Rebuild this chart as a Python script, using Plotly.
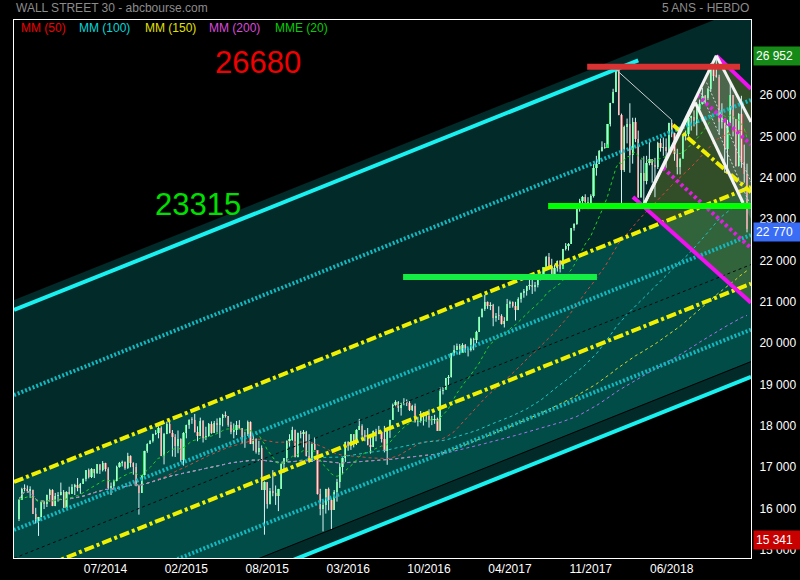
import plotly.graph_objects as go
import pandas as pd

# ---------------- data (weekly, Dec 2013 -> Dec 2018) ----------------
closes = [16221,16479,16469,16437,16458,15879,15699,15794,16154,16103,
16321,16452,16065,16302,16323,16412,16027,16409,16361,16513,
16583,16491,16606,16717,16924,16776,16948,16851,17068,16944,
17100,16961,16493,16554,16663,17001,17098,17138,16988,17280,
17113,17010,16544,16380,16805,17391,17573,17635,17810,17828,
17958,17281,17805,18054,17833,17737,17512,17673,17165,17825,
18019,18141,18133,17857,17750,18128,17713,17763,18058,17827,
18080,18025,18191,18273,18232,18011,17849,17899,18016,17947,
17730,17760,18086,17568,17690,17373,17477,16460,16643,16102,
16433,16385,16315,16472,17084,17216,17647,17664,17910,17245,
17824,17798,17848,17265,17128,17553,17425,16347,15988,16094,
16466,16205,15974,16392,16640,17007,17213,17602,17516,17793,
17577,17897,18004,17774,17740,17535,17501,17873,17807,17865,
17675,17400,17949,18147,18517,18571,18432,18544,18576,18553,
18395,18492,18085,18124,18261,18308,18240,18138,18145,18161,
17888,18847,18868,19152,19171,19757,19843,19934,19763,19964,
19886,19827,20094,20071,20269,20624,20822,21005,20903,20914,
20597,20663,20656,20453,20548,20941,21007,20897,20805,21080,
21206,21272,21384,21395,21350,21414,21638,21580,21830,22093,
21858,21675,21814,21988,21798,22268,22350,22405,22774,22872,
23329,23434,23539,23422,23358,23558,24231,24329,24652,24754,
24719,25296,25803,26072,26617,25521,24191,25219,25310,24538,
25336,24947,23533,24103,23933,24360,24463,24311,24263,24831,
24715,24753,24635,25317,25090,24580,24271,24456,25019,25058,
25451,25463,25313,25669,25790,25965,25917,26155,26744,26458,
26447,25340,25444,24688,25271,25989,25413,24286,25538,24389,
24100,22770]

opens = [15755,16221,16479,16469,16437,16458,15879,15699,15794,16154,
16103,16321,16452,16065,16302,16323,16412,16027,16409,16361,
16513,16583,16491,16606,16717,16924,16776,16948,16851,17068,
16944,17100,16961,16493,16554,16663,17001,17098,17138,16988,
17280,17113,17010,16544,16380,16805,17391,17573,17635,17810,
17828,17958,17281,17805,18054,17833,17737,17512,17673,17165,
17825,18019,18141,18133,17857,17750,18128,17713,17763,18058,
17827,18080,18025,18191,18273,18232,18011,17849,17899,18016,
17947,17730,17760,18086,17568,17690,17373,17477,16460,16643,
16102,16433,16385,16315,16472,17084,17216,17647,17664,17910,
17245,17824,17798,17848,17265,17128,17553,17425,16347,15988,
16094,16466,16205,15974,16392,16640,17007,17213,17602,17516,
17793,17577,17897,18004,17774,17740,17535,17501,17873,17807,
17865,17675,17400,17949,18147,18517,18571,18432,18544,18576,
18553,18395,18492,18085,18124,18261,18308,18240,18138,18145,
18161,17888,18847,18868,19152,19171,19757,19843,19934,19763,
19964,19886,19827,20094,20071,20269,20624,20822,21005,20903,
20914,20597,20663,20656,20453,20548,20941,21007,20897,20805,
21080,21206,21272,21384,21395,21350,21414,21638,21580,21830,
22093,21858,21675,21814,21988,21798,22268,22350,22405,22774,
22872,23329,23434,23539,23422,23358,23558,24231,24329,24652,
24754,24719,25296,25803,26072,26617,25521,24191,25219,25310,
24538,25336,24947,23533,24103,23933,24360,24463,24311,24263,
24831,24715,24753,24635,25317,25090,24580,24271,24456,25019,
25058,25451,25463,25313,25669,25790,25965,25917,26155,26744,
26458,26447,25340,25444,24688,25271,25989,25413,24286,25538,
24389,24100]

highs = [16225,16505,16588,16560,16540,16460,16020,15800,16160,16190,
16340,16480,16470,16380,16400,16630,16450,16420,16530,16590,
16600,16740,16620,16730,16930,16970,16980,16960,17075,17070,
17150,17110,17000,16630,16700,17040,17130,17160,17140,17350,
17290,17120,17100,16580,16810,17400,17580,17660,17810,17900,
17990,17990,17830,18100,18100,17900,17800,17890,17700,17850,
18030,18160,18210,18290,17990,18200,18140,17980,18070,18110,
18120,18180,18200,18290,18350,18240,18100,18060,18120,18140,
17950,17860,18130,18110,17770,17700,17640,17530,16660,16640,
16500,16930,16560,16480,17100,17220,17650,17800,17980,17910,
17840,17880,17900,17880,17800,17600,17720,17410,16480,16180,
16480,16510,16230,16450,16720,17100,17240,17620,17630,17800,
17800,17920,18170,18040,17900,17950,17760,17890,17930,18000,
17870,18000,17950,18150,18540,18620,18600,18560,18670,18640,
18600,18510,18540,18220,18360,18330,18320,18400,18240,18270,
18200,18930,18940,19160,19230,19760,19950,19990,19980,19999,
19980,19880,20130,20130,20300,20640,20840,21170,21010,20990,
20950,20730,20890,20700,20630,21070,21030,21010,21000,21110,
21225,21310,21390,21530,21530,21480,21680,21680,21830,22110,
22180,22040,21900,22000,22010,22280,22420,22420,22780,22900,
23370,23490,23560,23600,23530,23600,24330,24530,24670,24880,
24840,25300,25810,26150,26617,26610,25550,25260,25430,25800,
25450,25450,25140,24440,24520,24530,24860,24450,24480,24870,
24950,24970,24950,25330,25400,25090,24700,24480,25030,25140,
25530,25500,25630,25710,25890,26170,26000,26170,26770,26660,
26952,26490,25800,25400,25400,26280,26000,25420,25560,25980,
24800,24340]

lows = [15700,16221,16417,16380,16260,15870,15640,15341,15790,15990,
16040,16170,16060,16060,16170,16320,16020,16010,16340,16360,
16330,16420,16360,16600,16660,16730,16740,16740,16840,16840,
16900,16900,16460,16330,16490,16660,16990,17020,16940,16960,
17000,16820,16540,15855,16380,16800,17350,17560,17600,17780,
17700,17270,17070,17800,17820,17260,17250,17340,17130,17040,
17700,17930,18050,17840,17630,17750,17600,17660,17740,17810,
17830,17840,17710,17990,18200,17980,17800,17700,17780,17920,
17580,17470,17760,17560,17400,17330,17300,16450,15370,16000,
16100,16300,16090,15940,16480,16870,17130,17500,17640,17240,
17240,17700,17480,17260,17110,17140,17420,16340,15840,15450,
15880,15960,15503,15970,16170,16500,16830,17130,17400,17420,
17480,17540,17900,17730,17630,17530,17330,17490,17630,17800,
17600,17360,17060,17710,18150,18460,18340,18250,18500,18480,
18360,18360,18080,17990,18080,18010,18100,17960,18020,18050,
17880,17890,18760,18900,18990,19170,19700,19830,19720,19780,
19770,19680,19800,19830,20000,20270,20620,20780,20830,20800,
20410,20520,20560,20450,20380,20550,20850,20860,20550,20800,
20980,21100,21150,21290,21190,21250,21350,21520,21550,21850,
21840,21650,21600,21730,21710,21870,22240,22240,22400,22720,
22860,23180,23240,23280,23240,23340,23520,24050,24330,24630,
24700,24810,25240,25800,26070,25510,23360,24140,24830,24120,
24340,24860,23510,23510,23340,23840,24300,23880,23530,24210,
24630,24530,24240,24630,24980,24410,24080,24080,24480,24900,
25000,25140,25240,25020,25640,25770,25790,25880,26080,26340,
26420,25050,25190,24120,24120,25270,25000,24270,24270,24240,
23880,22680]

tick_bars = [31, 60, 89, 118, 147, 176, 205, 234]
tick_labels = ["07/2014", "02/2015", "08/2015", "03/2016", "10/2016", "04/2017", "11/2017", "06/2018"]
y_ticks = list(range(15000, 28000, 1000))

ma_periods = [50, 100, 150, 200]
ma_names = ["MM (50)", "MM (100)", "MM (150)", "MM (200)"]
ma_colors = ["#d24a3c", "#1fc6c6", "#d6d62a", "#a874f0"]
ema_period = 20

# channel lines: value at left edge / right edge of the chart window
edge_bars = [-1.79, 262.43]
fill_dark_top = [21044, 28171]
fill_dark_bottom = [12058, 19186]
fill_light_top = [16644, 23776]
fill_light_bottom = [12428, 19555]
cyan_upper_solid = [(-1.79, 20802), (222.0, 26836)]
cyan_lower_solid = [12058, 19186]
cyan_dotted = [[18747, 25879], [15484, 22615], [13201, 20328]]
yellow_dashdot = [[16644, 23776], [14313, 21440]]
black_dotted = [14800, 21900]

# pitchfork / drawing tools (bar, value)
fork_base = (224, 23344)
fork_apex = (250, 26952)
fork_right = (262.43, 25350)
inner_v = [(224, 23344), (242.4, 25820), (259.6, 23389)]
inner_right_edge = (262.43, 23000)
magenta_upper = [(250, 26952), (262.43, 26150)]
magenta_lower = [(220.1, 23534), (262.43, 20980)]
magenta_dotted = [[(243.1, 26000), (262.43, 24800)], [(230.9, 24235), (262.43, 22300)]]
white_dotted = [[(246.5, 26300), (262.43, 23900)], [(244.5, 26050), (262.43, 23300)]]
yellow_down = [(234.5, 25275), (262.43, 23650)]
thin_white = [(214, 26617), (234, 25400)]

level_red = (203.7, 258.5, 26680)
level_green = (189.7, 262.43, 23315)
level_green2 = (137.7, 207.2, 21600)

last_high, last_price, first_low = 26952, 22770, 15341

# ---------------- figure ----------------
n = len(closes)
idx = list(range(n))
s = pd.Series(closes, dtype=float)

fig = go.Figure()

# wicks
wx, wy = [], []
for i in idx:
    wx += [i, i, None]
    wy += [lows[i], highs[i], None]
fig.add_trace(go.Scatter(x=wx, y=wy, mode="lines", line=dict(color="#d8f4f4", width=1),
                         hoverinfo="skip", showlegend=False))

# bodies
min_h = 30
up_x, up_b, up_h, dn_x, dn_b, dn_h = [], [], [], [], [], []
for i in idx:
    o, c = opens[i], closes[i]
    h = max(abs(c - o), min_h)
    if c >= o:
        up_x.append(i); up_b.append(min(o, c)); up_h.append(h)
    else:
        dn_x.append(i); dn_b.append(min(o, c)); dn_h.append(h)
fig.add_trace(go.Bar(x=up_x, y=up_h, base=up_b, width=0.8, marker=dict(color="#2ef068", line=dict(width=0)),
                     showlegend=False, hoverinfo="skip"))
fig.add_trace(go.Bar(x=dn_x, y=dn_h, base=dn_b, width=0.8, marker=dict(color="#d45c5c", line=dict(width=0)),
                     showlegend=False, hoverinfo="skip"))

# moving averages
for p, nm, col in zip(ma_periods, ma_names, ma_colors):
    ma = s.rolling(p, min_periods=1).mean()
    fig.add_trace(go.Scatter(x=idx, y=ma, mode="lines", name=nm,
                             line=dict(color=col, width=1, dash="3px,3px"), showlegend=False, hoverinfo="skip"))
ema = s.ewm(span=ema_period, adjust=False).mean()
fig.add_trace(go.Scatter(x=idx, y=ema, mode="lines", name="MME (20)",
                         line=dict(color="#22d022", width=1, dash="3px,3px"), showlegend=False, hoverinfo="skip"))

shapes = []
x0e, x1e = edge_bars

def poly(pts, color, layer="below"):
    d = "M " + " L ".join(f"{x},{y}" for x, y in pts) + " Z"
    return dict(type="path", path=d, xref="x", yref="y", fillcolor=color, line=dict(width=0), layer=layer)

def seg(p0, p1, color, width, dash="solid", layer="above"):
    return dict(type="line", xref="x", yref="y", x0=p0[0], y0=p0[1], x1=p1[0], y1=p1[1],
                line=dict(color=color, width=width, dash=dash), layer=layer)

# channel fills
shapes.append(poly([(x0e, fill_dark_top[0]), (x1e, fill_dark_top[1]), (x1e, fill_dark_bottom[1]), (x0e, fill_dark_bottom[0])], "#012a29"))
shapes.append(poly([(x0e, fill_light_top[0]), (x1e, fill_light_top[1]), (x1e, fill_light_bottom[1]), (x0e, fill_light_bottom[0])], "#024c48"))
# fork fills
shapes.append(poly([fork_base, fork_apex, magenta_upper[1], magenta_lower[1]], "rgba(135,145,40,0.36)"))
shapes.append(poly([inner_v[1], fork_apex, fork_right, inner_right_edge, inner_v[2]], "rgba(170,190,200,0.22)"))

# channel lines
shapes.append(seg((x0e, fill_light_bottom[0]), (x1e, fill_light_bottom[1]), "#000000", 1))
shapes.append(seg((x0e, black_dotted[0]), (x1e, black_dotted[1]), "#0a0a0a", 1, "dot"))
for a, b in cyan_dotted:
    shapes.append(seg((x0e, a), (x1e, b), "#13b8c0", 4, "2px,2px"))
for a, b in yellow_dashdot:
    shapes.append(seg((x0e, a), (x1e, b), "#f0f000", 4, "10px,3px,3px,3px"))
shapes.append(seg(cyan_upper_solid[0], cyan_upper_solid[1], "#19f0f0", 4))
shapes.append(seg((x0e, cyan_lower_solid[0]), (x1e, cyan_lower_solid[1]), "#19f0f0", 4))

# horizontal levels
shapes.append(seg((level_green2[0], level_green2[2]), (level_green2[1], level_green2[2]), "#14ee44", 6))

# fork lines
shapes.append(seg(thin_white[0], thin_white[1], "#d0d0d0", 1))
for p0, p1 in white_dotted:
    shapes.append(seg(p0, p1, "#cfd8d8", 1, "2px,2px"))
shapes.append(seg(yellow_down[0], yellow_down[1], "#f0f000", 4, "10px,3px,3px,3px"))
for p0, p1 in magenta_dotted:
    shapes.append(seg(p0, p1, "#e020e0", 4, "3px,3px"))
shapes.append(seg(magenta_upper[0], magenta_upper[1], "#f010f0", 4))
shapes.append(seg(magenta_lower[0], magenta_lower[1], "#f010f0", 4))
shapes.append(seg(inner_v[0], inner_v[1], "#f4f4f4", 3))
shapes.append(seg(inner_v[1], inner_v[2], "#f4f4f4", 3))
shapes.append(seg(fork_base, fork_apex, "#f4f4f4", 3))
shapes.append(seg(fork_apex, fork_right, "#f4f4f4", 3))
shapes.append(seg((level_red[0], level_red[2]), (level_red[1], level_red[2]), "#d83232", 6))
shapes.append(seg((level_green[0], level_green[2]), (level_green[1], level_green[2]), "#00ff00", 6))

FONT = "Liberation Sans, Arial, sans-serif"
W, H = 737.0, 538.0
def px(x): return (x - 14) / W
def py(y): return 1 - (y - 20) / H

ann = []
ann.append(dict(x=0, y=py(8), xref="paper", yref="paper", xanchor="left", yanchor="middle",
                text="WALL STREET 30 - abcbourse.com", showarrow=False, font=dict(family=FONT, size=12, color="#8c8c8c")))
ann.append(dict(x=1, y=py(8), xref="paper", yref="paper", xanchor="right", yanchor="middle",
                text="5 ANS - HEBDO", showarrow=False, font=dict(family=FONT, size=12, color="#8c8c8c")))
legend_x = [19, 77, 143, 207, 273]
legend_cols = ["#f00000", "#00d8d8", "#e0e000", "#dc4adc", "#00d000"]
for x, t, c in zip(legend_x, ma_names + ["MME (20)"], legend_cols):
    ann.append(dict(x=px(x), y=py(28), xref="paper", yref="paper", xanchor="left", yanchor="middle",
                    text=t, showarrow=False, font=dict(family=FONT, size=12, color=c)))
ann.append(dict(x=px(258), y=py(62), xref="paper", yref="paper", xanchor="center", yanchor="middle",
                text=f"{level_red[2]}", showarrow=False, font=dict(family=FONT, size=31, color="#f00000")))
ann.append(dict(x=px(198), y=py(205), xref="paper", yref="paper", xanchor="center", yanchor="middle",
                text=f"{level_green[2]}", showarrow=False, font=dict(family=FONT, size=31, color="#00e000")))
for val, bg, ys in [(last_high, "#168a16", 0), (last_price, "#3a6df5", -3), (first_low, "#c80000", -4)]:
    ann.append(dict(x=1, y=val, xref="paper", yref="y", xanchor="left", yanchor="middle", xshift=2, yshift=ys,
                    text=f"{val:,}".replace(",", " "), showarrow=False, bgcolor=bg, width=44, align="left",
                    borderpad=2, font=dict(family=FONT, size=12, color="#ffffff")))

fig.update_layout(
    width=800, height=580,
    margin=dict(l=14, r=49, t=20, b=22, autoexpand=False),
    paper_bgcolor="#000000", plot_bgcolor="#000000",
    barmode="overlay", bargap=0,
    separators=". ",
    shapes=shapes, annotations=ann,
    showlegend=False, hovermode=False,
    font=dict(family=FONT, size=12, color="#ffffff"),
)
fig.update_xaxes(range=[x0e, x1e], tickvals=tick_bars, ticktext=tick_labels, showgrid=False, zeroline=False,
                 showline=True, mirror=True, linecolor="#ffffff", linewidth=1, ticks="", automargin=False,
                 tickfont=dict(family=FONT, size=12, color="#ffffff"))
fig.update_yaxes(range=[14807, 27813], side="right", tickvals=y_ticks, tickformat=",d", showgrid=False,
                 zeroline=False, showline=True, mirror=True, linecolor="#ffffff", linewidth=1, ticks="",
                 automargin=False, ticklabelstandoff=5, tickfont=dict(family=FONT, size=12, color="#ffffff"))

fig.write_html("out.html", config={"displayModeBar": False, "staticPlot": True},
               post_script="document.body.style.margin='0px';document.body.style.background='#000';")
